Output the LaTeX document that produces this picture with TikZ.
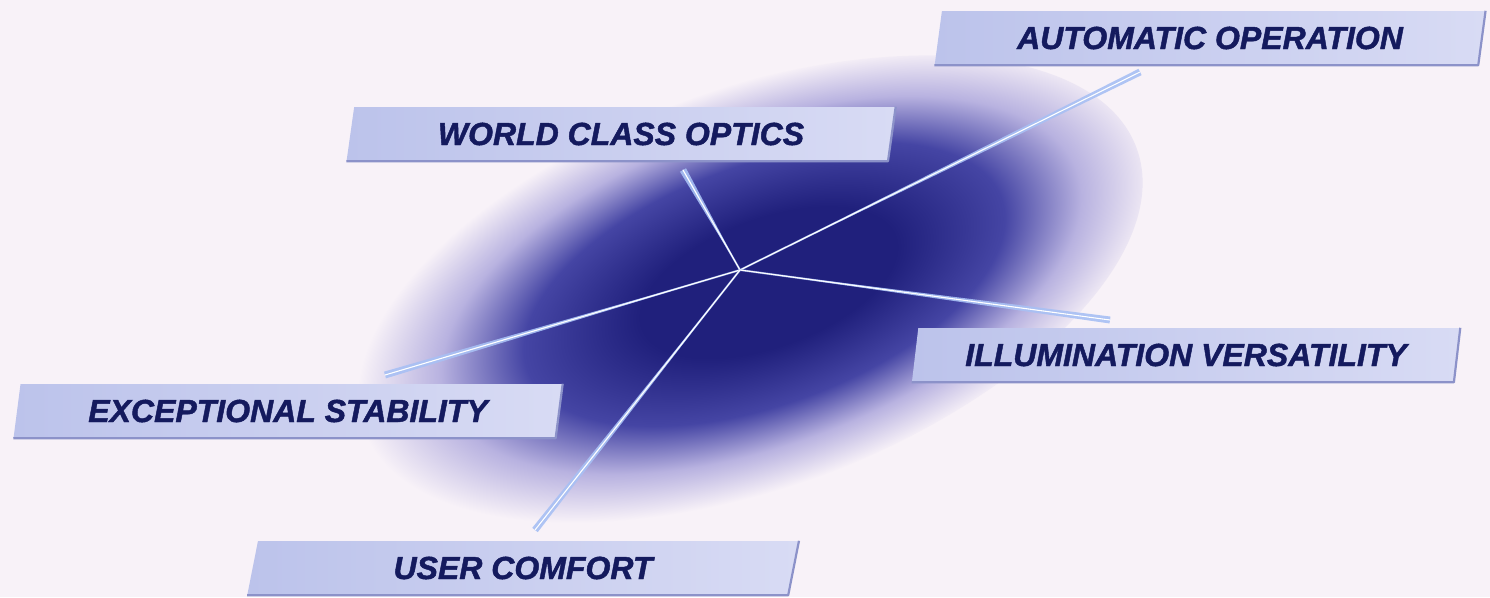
\documentclass[tikz,border=0pt]{standalone}
\usepackage{fontspec}
\setmainfont{Liberation Sans}
\newfontfamily\labelfont[FakeBold=1.4]{Liberation Sans}
\usetikzlibrary{shapes.geometric,calc}
\definecolor{bgpink}{HTML}{F8F2F8}
\definecolor{blobnavy}{HTML}{20207C}
\definecolor{blobmid}{HTML}{4545A4}
\definecolor{blobfade}{HTML}{B8B2E0}
\definecolor{labelnavy}{HTML}{141A5E}
\definecolor{boxleft}{HTML}{BCC3EB}
\definecolor{boxright}{HTML}{D8DBF4}
\definecolor{boxedge}{HTML}{8C92C9}
\definecolor{raylight}{HTML}{A8C0F4}
\pgfdeclareradialshading{blobshade}{\pgfpoint{2bp}{0bp}}{color(0bp)=(blobnavy); color(8bp)=(blobnavy); color(15bp)=(blobmid); color(20bp)=(blobfade); color(25bp)=(bgpink); color(50bp)=(bgpink)}

\begin{document}
\begin{tikzpicture}[
x=1pt, y=-1pt,
label/.style={trapezium, trapezium left angle=77, trapezium right angle=103, trapezium stretches=true,
  minimum width=552pt, minimum height=54pt, inner sep=0pt, left color=boxleft, right color=boxright,
  text=labelnavy, font=\fontsize{32}{38}\labelfont\bfseries\itshape},
boxshadow/.style={draw=boxedge, line width=2.2pt, line join=round},
ray/.style={fill=raylight, opacity=0.9},
raycore/.style={draw=white, line width=1.1pt, line cap=round}
]
\useasboundingbox (0,0) rectangle (1490,597);
\fill[bgpink] (0,0) rectangle (1490,597);

% soft blue glow
\begin{scope}[transform canvas={shift={(742,292)},rotate=20}]
\shade[shading=blobshade] (0,0) ellipse [x radius=420, y radius=200];
\end{scope}

% hub and ray ends
\coordinate (hub) at (740,270);
\coordinate (tAuto) at (1140,72);
\coordinate (tWorld) at (683,170);
\coordinate (tIllum) at (1110,320);
\coordinate (tExcept) at (385,375);
\coordinate (tUser) at (535,530);

\foreach \t in {tAuto,tWorld,tIllum,tExcept,tUser}{
  \fill[ray] (hub) -- ($(\t)!3.5pt!90:(hub)$) -- ($(\t)!3.5pt!-90:(hub)$) -- cycle;
  \draw[raylight, line width=2pt, opacity=0.7] (hub) -- (\t);
  \draw[raycore] (hub) -- (\t);
}

% labels
\node[label] (auto) at (1210,38) {AUTOMATIC OPERATION};
\node[label] (world) at (621,134) {WORLD CLASS OPTICS};
\node[label] (illum) at (1186,355) {ILLUMINATION VERSATILITY};
\node[label] (except) at (288,411) {EXCEPTIONAL STABILITY};
\node[label] (user) at (523,568) {USER COMFORT};

\foreach \n in {auto,world,illum,except,user}
  \draw[boxshadow] (\n.bottom left corner) -- (\n.bottom right corner) -- (\n.top right corner);
\end{tikzpicture}
\end{document}
